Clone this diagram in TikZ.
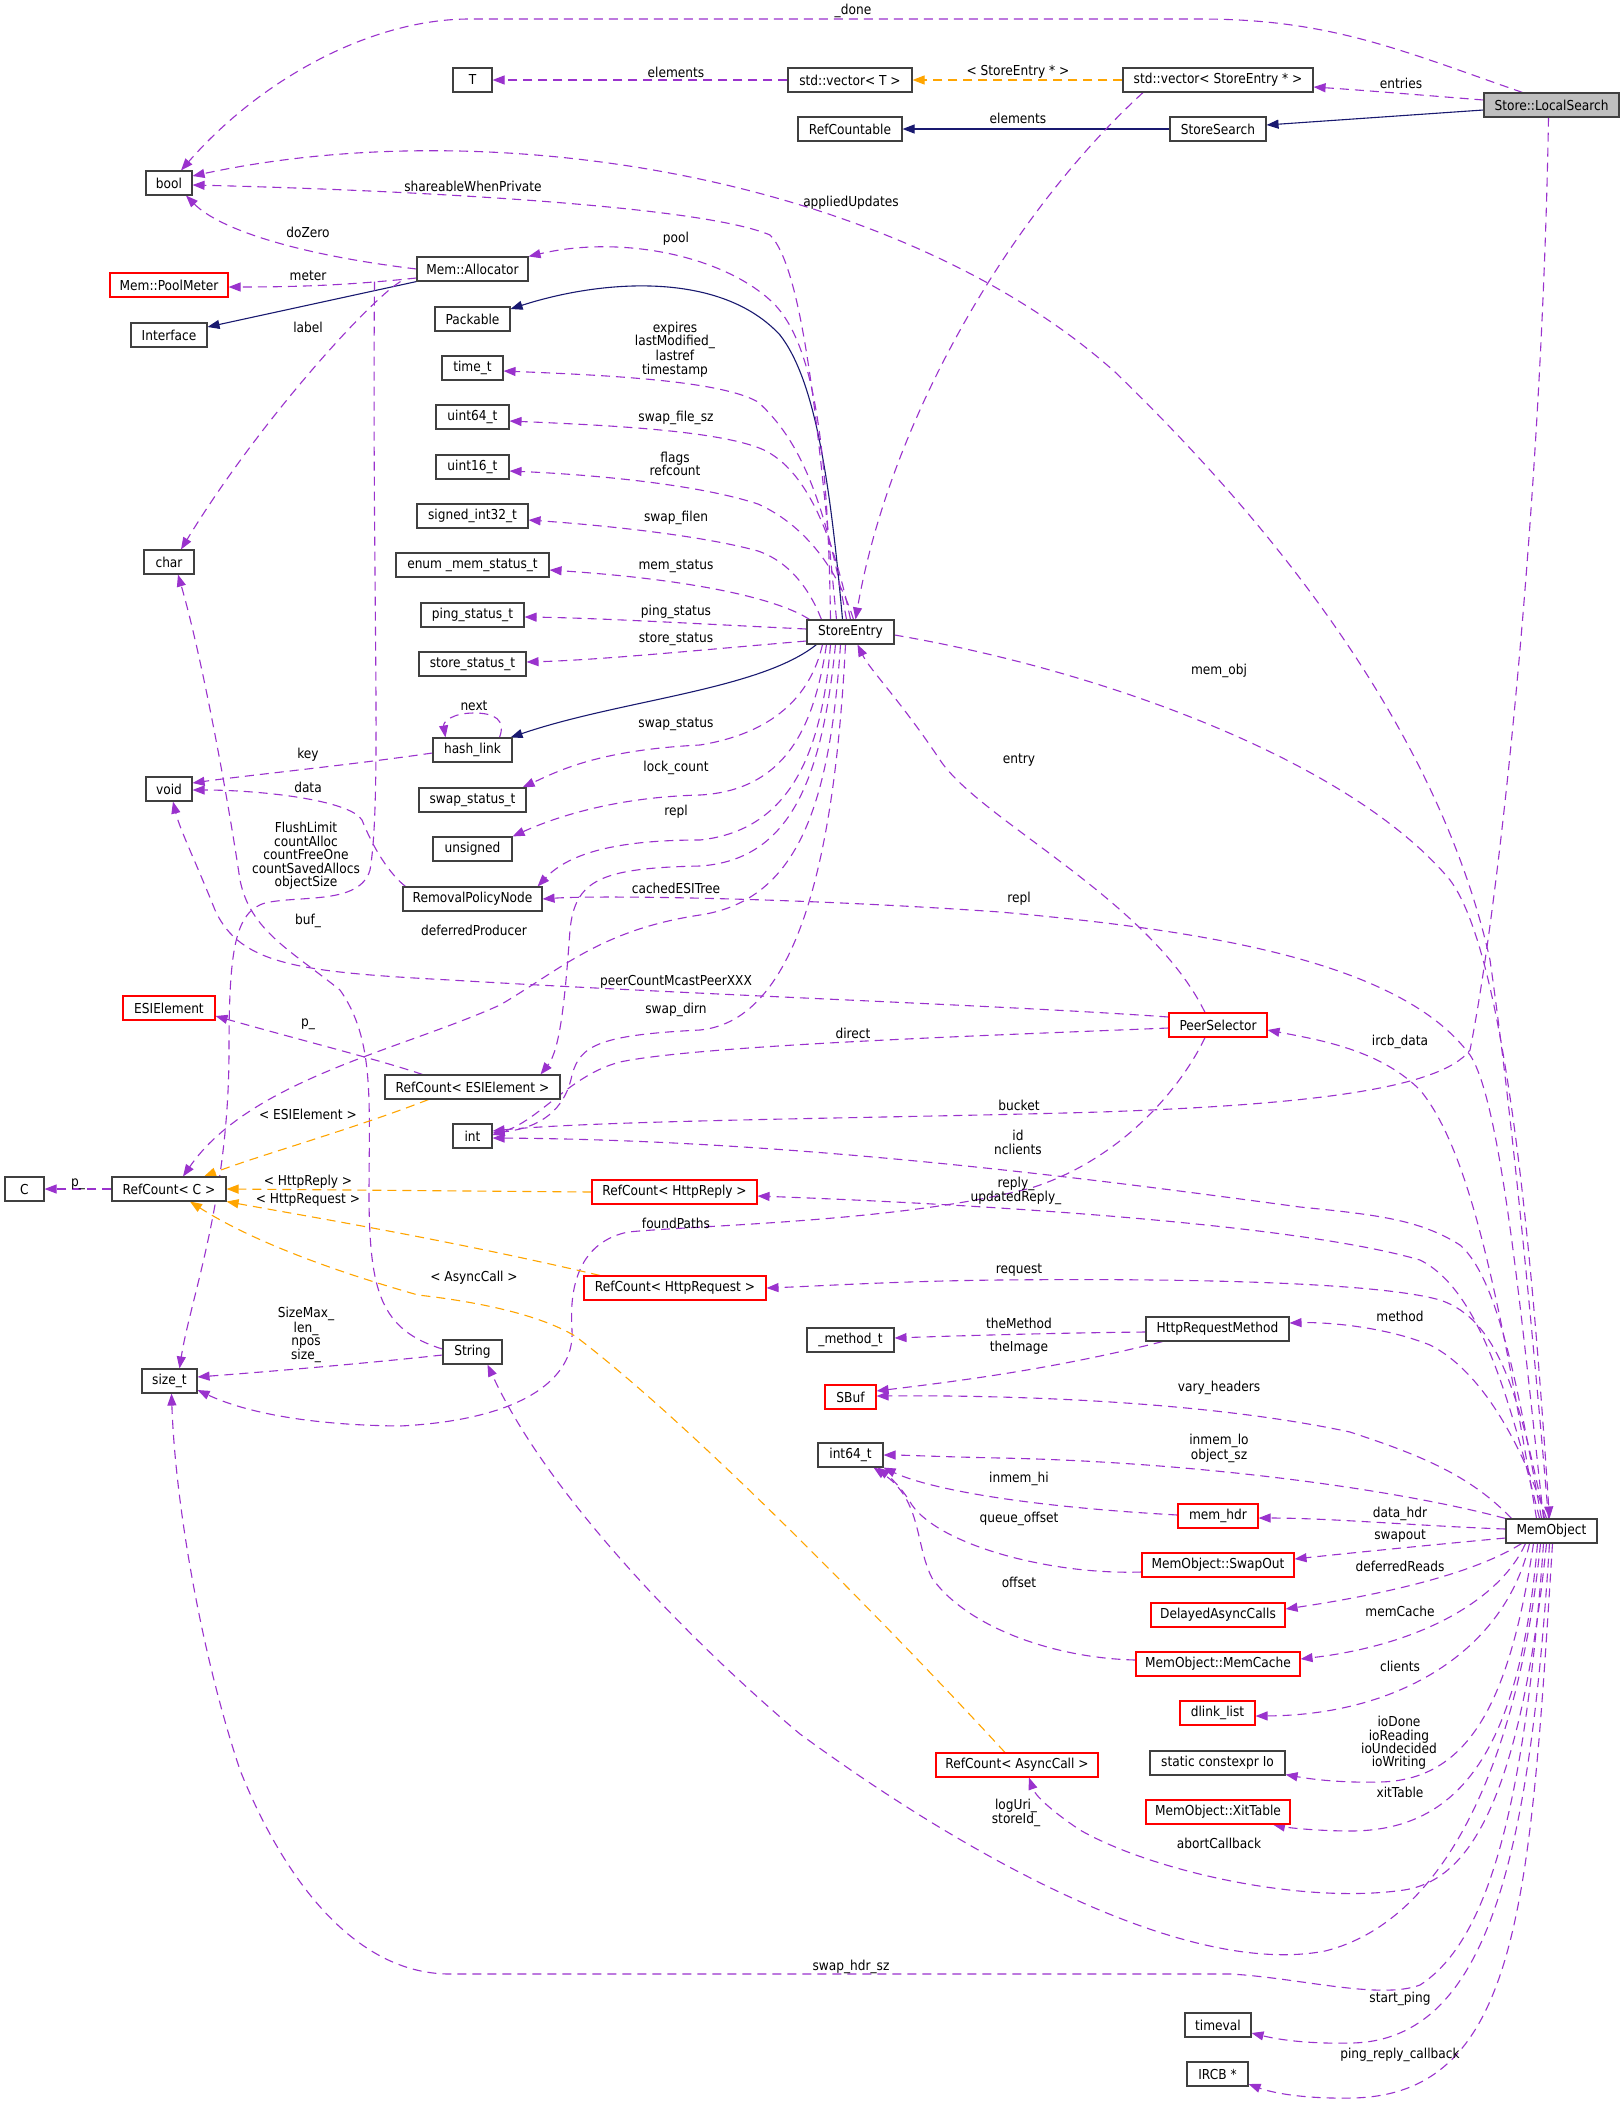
\documentclass[tikz,border=0pt]{standalone}
\usepackage{fontspec}
\setmainfont{DejaVu Sans}[FakeStretch=0.89]
\usetikzlibrary{arrows.meta,calc}
\definecolor{epurple}{HTML}{9A32CD}
\definecolor{eorange}{HTML}{FFA500}
\definecolor{enavy}{HTML}{191970}
\definecolor{boxgray}{HTML}{404040}
\newcommand\dgfont{\fontsize{13.7}{13.4}\selectfont}
\pgfdeclarelayer{back}
\pgfdeclarelayer{edges}
\pgfsetlayers{back,edges,main}
\begin{document}
\begin{tikzpicture}[x=1pt,y=-1pt,
  every node/.style={font=\dgfont},
  nbox/.style={draw=boxgray,fill=white,line width=1.1pt,minimum height=24pt,inner sep=0pt},
  nrbox/.style={nbox,draw=red},
  ebase/.style={line width=1.1pt,-{Triangle[length=12pt,width=9pt]}},
  emem/.style={ebase,draw=epurple,dash pattern=on 9pt off 6pt},
  etmpl/.style={ebase,draw=eorange,dash pattern=on 9pt off 6pt},
  einh/.style={ebase,draw=enavy},
  elbl/.style={inner sep=0pt,align=center,text=black}]
\begin{pgfonlayer}{back}
\fill[white] (0,0) rectangle (1624,2104);
\end{pgfonlayer}
\useasboundingbox (0,0) rectangle (1624,2104);

% ---------------- nodes ----------------
\node[nbox,minimum width=39pt] (T) at (472.5,80) {T};
\node[nbox,minimum width=124pt] (vecT) at (850,80) {std::vector< T >};
\node[nbox,minimum width=190pt] (vecSE) at (1218,80) {std::vector< StoreEntry * >};
\node[nbox,fill=gray!50,minimum width=135pt] (ls) at (1551.5,105) {Store::LocalSearch};
\node[nbox,minimum width=104pt] (rcb) at (850,129) {RefCountable};
\node[nbox,minimum width=96pt] (ss) at (1218,129) {StoreSearch};
\node[nbox,minimum width=46pt] (bool) at (169,183) {bool};
\node[nbox,minimum width=111pt] (al) at (472.5,269) {Mem::Allocator};
\node[nrbox,minimum width=118pt] (pm) at (169,285) {Mem::PoolMeter};
\node[nbox,minimum width=75pt] (pk) at (472.5,319) {Packable};
\node[nbox,minimum width=76pt] (if) at (169,335) {Interface};
\node[nbox,minimum width=61pt] (tt) at (472.5,368) {time\_t};
\node[nbox,minimum width=73pt] (u64) at (472.5,417) {uint64\_t};
\node[nbox,minimum width=73pt] (u16) at (472.5,467) {uint16\_t};
\node[nbox,minimum width=111pt] (s32) at (472.5,516) {signed\_int32\_t};
\node[nbox,minimum width=50pt] (ch) at (169,562) {char};
\node[nbox,minimum width=153pt] (ems) at (472.5,565) {enum \_mem\_status\_t};
\node[nbox,minimum width=103pt] (pst) at (472.5,615) {ping\_status\_t};
\node[nbox,minimum width=87pt] (se) at (850.5,632) {StoreEntry};
\node[nbox,minimum width=107pt] (sst) at (472.5,664) {store\_status\_t};
\node[nbox,minimum width=79pt] (hl) at (472.5,750) {hash\_link};
\node[nbox,minimum width=46pt] (vd) at (169,789) {void};
\node[nbox,minimum width=107pt] (sws) at (472.5,800) {swap\_status\_t};
\node[nbox,minimum width=79pt] (uns) at (472.5,849) {unsigned};
\node[nbox,minimum width=139pt] (rpn) at (472.5,899) {RemovalPolicyNode};
\node[nrbox,minimum width=92pt] (esi) at (169,1008) {ESIElement};
\node[nrbox,minimum width=98pt] (ps) at (1218,1025) {PeerSelector};
\node[nbox,minimum width=175pt] (rce) at (472.5,1087) {RefCount< ESIElement >};
\node[nbox,minimum width=39pt] (int) at (472.5,1136) {int};
\node[nbox,minimum width=39pt] (C) at (24.5,1189) {C};
\node[nbox,minimum width=114pt] (rcc) at (169,1189) {RefCount< C >};
\node[nrbox,minimum width=165pt] (rchr) at (674.5,1192) {RefCount< HttpReply >};
\node[nrbox,minimum width=182pt] (rchq) at (675,1288) {RefCount< HttpRequest >};
\node[nbox,minimum width=143pt] (hrm) at (1217.5,1329) {HttpRequestMethod};
\node[nbox,minimum width=87pt] (mt) at (850.5,1340) {\_method\_t};
\node[nbox,minimum width=59pt] (str) at (472.5,1352) {String};
\node[nbox,minimum width=55pt] (st) at (169.5,1381) {size\_t};
\node[nrbox,minimum width=51pt] (sb) at (850.5,1397) {SBuf};
\node[nbox,minimum width=65pt] (i64) at (850.5,1455) {int64\_t};
\node[nrbox,minimum width=80pt] (mh) at (1218,1516) {mem\_hdr};
\node[nbox,minimum width=91pt] (mo) at (1551.5,1531) {MemObject};
\node[nrbox,minimum width=152pt] (so) at (1218,1565) {MemObject::SwapOut};
\node[nrbox,minimum width=134pt] (dac) at (1218,1615) {DelayedAsyncCalls};
\node[nrbox,minimum width=164pt] (mc) at (1218,1664) {MemObject::MemCache};
\node[nrbox,minimum width=75pt] (dl) at (1217.5,1713) {dlink\_list};
\node[nrbox,minimum width=162pt] (rcac) at (1017,1765) {RefCount< AsyncCall >};
\node[nbox,minimum width=135pt] (sci) at (1217.5,1763) {static constexpr Io};
\node[nrbox,minimum width=144pt] (xt) at (1218,1812) {MemObject::XitTable};
\node[nbox,minimum width=66pt] (tv) at (1218,2025) {timeval};
\node[nbox,minimum width=61pt] (ircb) at (1217.5,2074) {IRCB *};

% ---------------- edges ----------------
\begin{pgfonlayer}{edges}
\draw[emem] ($(ls.north)+(-29,0)$) .. controls (1400,50) and (1330,19) .. (1200,19) -- (470,19) .. controls (370,19) and (260,80) .. ($(bool.north)+(12,0)$);
\draw[emem] ($(ls.west)+(0,-5)$) .. controls (1420,95) and (1360,90) .. ($(vecSE.east)+(0,7)$);
\draw[einh] ($(ls.west)+(0,5)$) -- ($(ss.east)+(0,-4)$);
\draw[emem] ($(ls.south)+(-3,0)$) .. controls (1542,500) and (1500,900) .. (1470,1050) .. controls (1440,1090) and (1300,1105) .. (1100,1112) .. controls (900,1118) and (600,1120) .. ($(int.east)+(0,-5)$);
\draw[etmpl] (vecSE.west) -- (vecT.east);
\draw[emem] (vecT.west) -- (T.east);
\draw[einh] (ss.west) -- (rcb.east);
\draw[emem] ($(vecSE.south)+(-75,0)$) .. controls (1010,215) and (890,420) .. ($(se.north)+(5,0)$);
\draw[einh] ($(se.north)+(-8,0)$) .. controls (830,480) and (815,380) .. (780,335) .. controls (720,270) and (600,280) .. ($(pk.east)+(0,-10)$);
\draw[einh] ($(se.south west)+(10,0)$) .. controls (760,690) and (620,700) .. ($(hl.north east)+(-2,0)$);
\draw[einh] (al.south west) -- ($(if.east)+(0,-8)$);
\draw[emem] ($(se.north)+(-14,0)$) .. controls (820,450) and (805,270) .. (770,235) .. controls (700,205) and (400,190) .. ($(bool.east)+(0,2)$);
\draw[emem] ($(mo.north)+(-3,0)$) .. controls (1530,1300) and (1510,1100) .. (1490,960) .. controls (1450,780) and (1330,580) .. (1115,372) .. controls (900,180) and (500,110) .. ($(bool.east)+(0,-7)$);
\draw[emem] (al.west) .. controls (300,255) and (220,230) .. ($(bool.south)+(17,0)$);
\draw[emem] ($(al.west)+(0,9)$) .. controls (350,285) and (300,287) .. ($(pm.east)+(0,2)$);
\draw[emem] ($(al.south)+(-72,0)$) .. controls (370,300) and (260,420) .. ($(ch.north)+(12,0)$);
\draw[emem] ($(al.south)+(-98,0)$) .. controls (372,600) and (382,800) .. (370,870) .. controls (360,905) and (300,895) .. (265,903) .. controls (235,912) and (229,950) .. (229,1050) .. controls (229,1200) and (190,1300) .. ($(st.north)+(10,0)$);
\draw[emem] ($(hl.west)+(0,3)$) .. controls (350,765) and (250,775) .. ($(vd.east)+(0,-6)$);
\draw[emem] ($(rpn.north)+(-67,0)$) .. controls (385,870) and (370,840) .. (362,820) .. controls (350,800) and (260,790) .. ($(vd.east)+(0,1)$);
\draw[emem] ($(hl.north)+(27,0)$) .. controls (506,720) and (495,713) .. (474,713) .. controls (452,713) and (443,722) .. ($(hl.north)+(-27,0)$);
\draw[emem] ($(ps.west)+(0,-8)$) .. controls (1000,1005) and (700,995) .. (450,980) .. controls (300,972) and (240,965) .. (215,910) .. controls (195,860) and (180,830) .. ($(vd.south)+(4,0)$);
\draw[emem] ($(str.west)+(0,-3)$) .. controls (380,1330) and (370,1290) .. (369,1200) .. controls (369,1100) and (375,1040) .. (340,990) .. controls (290,950) and (250,930) .. (240,880) .. controls (225,780) and (200,650) .. ($(ch.south)+(9,0)$);
% StoreEntry fan
\draw[emem] ($(se.north)+(-20,0)$) .. controls (828,450) and (815,340) .. (770,300) .. controls (720,255) and (620,235) .. (al.north east);
\draw[emem] ($(se.north)+(-4,0)$) .. controls (825,500) and (800,440) .. (758,402) .. controls (720,380) and (600,375) .. ($(tt.east)+(0,3)$);
\draw[emem] (se.north) .. controls (832,530) and (805,470) .. (764,450) .. controls (720,430) and (600,425) .. ($(u64.east)+(0,4)$);
\draw[emem] ($(se.north)+(3,0)$) .. controls (838,570) and (805,525) .. (758,504) .. controls (700,485) and (600,475) .. ($(u16.east)+(0,4)$);
\draw[emem] ($(se.north west)+(15,0)$) .. controls (810,590) and (790,562) .. (758,551) .. controls (700,535) and (600,525) .. ($(s32.east)+(0,4)$);
\draw[emem] ($(se.north west)+(3,0)$) .. controls (780,600) and (700,580) .. ($(ems.east)+(0,5)$);
\draw[emem] ($(se.west)+(0,-3)$) .. controls (700,624) and (600,618) .. ($(pst.east)+(0,2)$);
\draw[emem] ($(se.west)+(0,9)$) .. controls (700,650) and (600,660) .. ($(sst.east)+(0,-2)$);
\draw[emem] ($(se.south)+(-28,0)$) .. controls (812,690) and (780,732) .. (700,745) .. controls (600,750) and (560,770) .. ($(sws.north east)+(-4,0)$);
\draw[emem] ($(se.south)+(-24,0)$) .. controls (815,720) and (790,790) .. (700,795) .. controls (620,797) and (560,815) .. (uns.north east);
\draw[emem] ($(se.south)+(-20,0)$) .. controls (822,750) and (792,830) .. (700,840) .. controls (620,840) and (570,852) .. ($(rpn.north east)+(-5,0)$);
\draw[emem] ($(se.south)+(-15,0)$) .. controls (822,780) and (790,860) .. (700,866) .. controls (600,868) and (575,880) .. (570,930) .. controls (565,1000) and (560,1050) .. ($(rce.north east)+(-20,0)$);
\draw[emem] ($(se.south)+(-10,0)$) .. controls (830,800) and (800,900) .. (700,915) .. controls (600,930) and (560,970) .. (500,1005) .. controls (400,1050) and (250,1080) .. ($(rcc.north)+(14,0)$);
\draw[emem] ($(se.south)+(-5,0)$) .. controls (835,850) and (800,1020) .. (700,1030) .. controls (600,1035) and (580,1045) .. (572,1075) .. controls (565,1110) and (540,1128) .. ($(int.east)+(0,-3)$);
\draw[emem] ($(ps.north)+(-13,0)$) .. controls (1150,900) and (980,820) .. (940,760) .. controls (900,700) and (870,670) .. ($(se.south)+(7,0)$);
\draw[emem] ($(se.east)+(0,3)$) .. controls (1100,670) and (1350,760) .. (1450,880) .. controls (1510,960) and (1535,1300) .. ($(mo.north)+(-2,0)$);
% MemObject edges
\draw[emem] ($(mo.north)+(-8,0)$) .. controls (1520,1300) and (1500,1100) .. (1470,1055) .. controls (1400,960) and (1200,930) .. (1000,912) .. controls (800,898) and (600,895) .. (rpn.east);
\draw[emem] ($(ps.west)+(0,3)$) .. controls (1000,1035) and (700,1045) .. (620,1062) .. controls (570,1075) and (540,1120) .. ($(int.east)+(0,-1)$);
\draw[emem] ($(mo.north)+(-10,0)$) .. controls (1520,1400) and (1500,1280) .. (1460,1245) .. controls (1420,1220) and (1380,1215) .. (1300,1207) .. controls (1100,1180) and (800,1140) .. ($(int.east)+(0,2)$);
\draw[emem] ($(mo.north)+(-12,0)$) .. controls (1510,1400) and (1480,1290) .. (1420,1260) .. controls (1300,1225) and (1000,1205) .. ($(rchr.east)+(0,4)$);
\draw[emem] ($(ps.south)+(-13,0)$) .. controls (1180,1090) and (1120,1160) .. (1031,1188) .. controls (900,1222) and (700,1225) .. (628,1232) .. controls (590,1240) and (568,1270) .. (572,1330) .. controls (575,1380) and (520,1420) .. (400,1426) .. controls (300,1425) and (240,1410) .. ($(st.east)+(0,9)$);
\draw[emem] ($(rce.north)+(-50,0)$) .. controls (380,1060) and (300,1040) .. ($(esi.east)+(0,8)$);
\draw[etmpl] ($(rce.south)+(-44,0)$) .. controls (350,1130) and (260,1155) .. ($(rcc.north)+(35,0)$);
\draw[emem] (rcc.west) -- (C.east);
\draw[etmpl] (rchr.west) -- (rcc.east);
\draw[etmpl] ($(rchq.north)+(-75,0)$) .. controls (450,1240) and (300,1215) .. (rcc.south east);
\draw[etmpl] ($(rcac.north)+(-12,0)$) .. controls (920,1660) and (700,1430) .. (575,1336) .. controls (540,1315) and (480,1302) .. (418,1295) .. controls (330,1270) and (250,1240) .. ($(rcc.south)+(21,0)$);
\draw[emem] ($(str.west)+(0,3)$) .. controls (350,1365) and (250,1373) .. ($(st.east)+(0,-4)$);
\draw[emem] ($(mo.south)+(-11,0)$) .. controls (1520,1750) and (1450,1920) .. (1325,1951) .. controls (1200,1975) and (1000,1880) .. (800,1734) .. controls (700,1650) and (550,1500) .. ($(str.south)+(15,0)$);
\draw[emem] ($(mo.south)+(-8,0)$) .. controls (1525,1800) and (1490,1940) .. (1420,1985) .. controls (1380,2000) and (1300,1978) .. (1231,1974) -- (450,1974) .. controls (350,1974) and (280,1870) .. (240,1770) .. controls (200,1650) and (175,1500) .. ($(st.south)+(2,0)$);
\draw[emem] ($(mo.north)+(-15,0)$) .. controls (1500,1300) and (1470,1150) .. (1420,1090) .. controls (1380,1050) and (1320,1040) .. ($(ps.east)+(0,5)$);
\draw[emem] ($(mo.north)+(-7,0)$) .. controls (1520,1400) and (1500,1320) .. (1440,1300) .. controls (1380,1283) and (1200,1278) .. (1000,1280) .. controls (900,1281) and (820,1286) .. (rchq.east);
\draw[emem] ($(mo.north)+(-5,0)$) .. controls (1520,1440) and (1480,1370) .. (1430,1345) .. controls (1380,1325) and (1320,1322) .. ($(hrm.east)+(0,-6)$);
\draw[emem] ($(hrm.west)+(0,3)$) .. controls (1050,1333) and (950,1336) .. ($(mt.east)+(0,-2)$);
\draw[emem] ($(hrm.south)+(-55,0)$) .. controls (1050,1370) and (950,1382) .. ($(sb.east)+(0,-6)$);
\draw[emem] ($(mo.north)+(-40,0)$) .. controls (1470,1475) and (1420,1455) .. (1350,1432) .. controls (1200,1400) and (1000,1395) .. ($(sb.east)+(0,-1)$);
\draw[emem] (mo.north west) .. controls (1400,1490) and (1200,1462) .. (1000,1458) .. controls (950,1457) and (900,1455) .. (i64.east);
\draw[emem] ($(mh.west)+(0,-1)$) .. controls (1000,1505) and (920,1485) .. (i64.south east);
\draw[emem] ($(so.west)+(0,7)$) .. controls (1050,1575) and (940,1545) .. (912,1505) .. controls (902,1488) and (890,1477) .. ($(i64.south east)+(-6,0)$);
\draw[emem] ($(mc.west)+(0,-4)$) .. controls (1050,1658) and (965,1625) .. (932,1578) .. controls (915,1545) and (922,1500) .. ($(i64.south east)+(-10,0)$);
\draw[emem] ($(mo.west)+(0,-2)$) .. controls (1420,1526) and (1330,1518) .. ($(mh.east)+(0,2)$);
\draw[emem] ($(mo.west)+(0,7)$) .. controls (1430,1545) and (1350,1553) .. ($(so.east)+(0,-6)$);
\draw[emem] ($(mo.south)+(-30,0)$) .. controls (1480,1570) and (1400,1592) .. ($(dac.east)+(0,-6)$);
\draw[emem] ($(mo.south)+(-26,0)$) .. controls (1500,1600) and (1420,1645) .. ($(mc.east)+(0,-5)$);
\draw[emem] ($(mo.south)+(-22,0)$) .. controls (1505,1650) and (1400,1715) .. ($(dl.east)+(0,3)$);
\draw[emem] ($(mo.south)+(-18,0)$) .. controls (1510,1700) and (1470,1780) .. (1380,1782) .. controls (1340,1783) and (1310,1779) .. ($(sci.south east)+(0,-1)$);
\draw[emem] ($(mo.south)+(-14,0)$) .. controls (1520,1750) and (1460,1830) .. (1352,1831) .. controls (1320,1831) and (1290,1828) .. ($(xt.south)+(55,0)$);
\draw[emem] ($(mo.south)+(-5,0)$) .. controls (1520,1800) and (1470,1880) .. (1404,1890) .. controls (1300,1905) and (1150,1870) .. (1080,1830) .. controls (1050,1810) and (1035,1795) .. ($(rcac.south)+(12,0)$);
\draw[emem] ($(mo.south)+(-2,0)$) .. controls (1530,1850) and (1490,2040) .. (1352,2043) .. controls (1310,2044) and (1280,2040) .. ($(tv.east)+(0,8)$);
\draw[emem] ($(mo.south)+(1,0)$) .. controls (1530,1900) and (1520,2095) .. (1352,2098) .. controls (1300,2099) and (1270,2092) .. ($(ircb.east)+(0,10)$);
\end{pgfonlayer}

% ---------------- labels ----------------
\node[elbl] (l1) at (853,11) {\_done};
\node[elbl] (l2) at (676,72) {elements};
\node[elbl] (l3) at (1018,72) {< StoreEntry * >};
\node[elbl] (l4) at (1401,83) {entries};
\node[elbl] (l5) at (1018,118) {elements};
\node[elbl] (l6) at (473,186) {shareableWhenPrivate};
\node[elbl] (l7) at (851,203) {appliedUpdates};
\node[elbl] (l8) at (308,232) {doZero};
\node[elbl] (l9) at (676,239) {pool};
\node[elbl] (l10) at (308,276) {meter};
\node[elbl] (l11) at (308,327) {label};
\node[elbl] (l12) at (675,349.5) {expires\\lastModified\_\\lastref\\timestamp};
\node[elbl] (l13) at (676,418) {swap\_file\_sz};
\node[elbl] (l14) at (675,464) {flags\\refcount};
\node[elbl] (l15) at (676,518) {swap\_filen};
\node[elbl] (l16) at (676,566) {mem\_status};
\node[elbl] (l17) at (676,612) {ping\_status};
\node[elbl] (l18) at (676,639) {store\_status};
\node[elbl] (l19) at (1219,671) {mem\_obj};
\node[elbl] (l20) at (474,706) {next};
\node[elbl] (l21) at (676,724) {swap\_status};
\node[elbl] (l22) at (308,755) {key};
\node[elbl] (l23) at (1019,760) {entry};
\node[elbl] (l24) at (676,768) {lock\_count};
\node[elbl] (l25) at (308,787) {data};
\node[elbl] (l26) at (676,812) {repl};
\node[elbl] (l27) at (306,856) {FlushLimit\\countAlloc\\countFreeOne\\countSavedAllocs\\objectSize};
\node[elbl] (l28) at (676,888) {cachedESITree};
\node[elbl] (l29) at (1019,899) {repl};
\node[elbl] (l30) at (308,921) {buf\_};
\node[elbl] (l31) at (474,930) {deferredProducer};
\node[elbl] (l32) at (676,982) {peerCountMcastPeerXXX};
\node[elbl] (l33) at (676,1010) {swap\_dirn};
\node[elbl] (l34) at (308,1024) {p\_};
\node[elbl] (l35) at (853,1033) {direct};
\node[elbl] (l36) at (1400,1042) {ircb\_data};
\node[elbl] (l37) at (1019,1105) {bucket};
\node[elbl] (l38) at (308,1114) {< ESIElement >};
\node[elbl] (l39) at (1018,1142.5) {id\\nclients};
\node[elbl] (l40) at (78,1184) {p\_};
\node[elbl] (l41) at (308,1182) {< HttpReply >};
\node[elbl] (l42) at (1016,1191) {reply\_\\updatedReply\_};
\node[elbl] (l43) at (308,1200) {< HttpRequest >};
\node[elbl] (l44) at (676,1223) {foundPaths};
\node[elbl] (l45) at (1019,1270) {request};
\node[elbl] (l46) at (474,1278) {< AsyncCall >};
\node[elbl] (l47) at (1400,1316) {method};
\node[elbl] (l48) at (1019,1323) {theMethod};
\node[elbl] (l49) at (306,1335) {SizeMax\_\\len\_\\npos\\size\_};
\node[elbl] (l50) at (1019,1348) {theImage};
\node[elbl] (l51) at (1219,1388) {vary\_headers};
\node[elbl] (l52) at (1219,1448.5) {inmem\_lo\\object\_sz};
\node[elbl] (l53) at (1019,1479) {inmem\_hi};
\node[elbl] (l54) at (1400,1514) {data\_hdr};
\node[elbl] (l55) at (1019,1519) {queue\_offset};
\node[elbl] (l56) at (1400,1536) {swapout};
\node[elbl] (l57) at (1400,1566) {deferredReads};
\node[elbl] (l58) at (1019,1582) {offset};
\node[elbl] (l59) at (1400,1611) {memCache};
\node[elbl] (l60) at (1400,1666) {clients};
\node[elbl] (l61) at (1399,1743) {ioDone\\ioReading\\ioUndecided\\ioWriting};
\node[elbl] (l62) at (1400,1792) {xitTable};
\node[elbl] (l63) at (1016,1813) {logUri\_\\storeId\_};
\node[elbl] (l64) at (1219,1843) {abortCallback};
\node[elbl] (l65) at (851,1967) {swap\_hdr\_sz};
\node[elbl] (l66) at (1400,1999) {start\_ping};
\node[elbl] (l67) at (1400,2055) {ping\_reply\_callback};
\end{tikzpicture}
\end{document}
